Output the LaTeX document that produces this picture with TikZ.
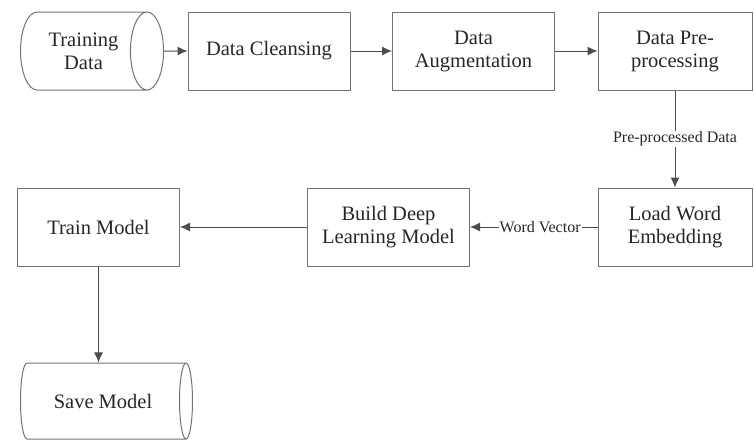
\documentclass[tikz,border=0pt]{standalone}
\usepackage{fontspec}
\setmainfont{Liberation Serif}
\usetikzlibrary{shapes.geometric,arrows.meta}

\begin{document}
\begin{tikzpicture}[x=1pt,y=-1pt,
box/.style={draw=black!55,line width=1pt,minimum width=162pt,minimum height=78pt,align=center,inner sep=0pt,text=black!85,font=\fontsize{20.5}{23}\selectfont},
store/.style={cylinder,draw=black!55,line width=1pt,aspect=0.9,minimum width=78pt,minimum height=143pt,align=center,inner sep=0pt,text=black!85,font=\fontsize{20.5}{23}\selectfont},
flow/.style={draw=black!70,line width=1pt,-{Latex[length=10pt,width=9pt]}},
lbl/.style={fill=white,inner sep=1pt,text=black!85,font=\fontsize{16}{18}\selectfont}]

\useasboundingbox (0,0) rectangle (754,439);

% top row
\node[store] (data) at (83.5,51) {Training\\Data};
\node[box] (clean) at (269,51) {Data Cleansing};
\node[box] (augm) at (473.5,51) {Data\\Augmentation};
\node[box,minimum width=154pt] (prep) at (675,51) {Data Pre-\\processing};

% middle row
\node[box,minimum width=154pt] (embed) at (675,227) {Load Word\\Embedding};
\node[box] (build) at (388.5,227) {Build Deep\\Learning Model};
\node[box] (fit) at (98.5,227) {Train Model};

% bottom
\node[store,minimum height=172pt,minimum width=76pt] (save) at (103,401) {Save Model};

\draw[flow] (data) -- (clean);
\draw[flow] (clean) -- (augm);
\draw[flow] (augm) -- (prep);
\draw[flow] (prep) -- node[lbl] {Pre-processed Data} (embed);
\draw[flow] (embed) -- node[lbl,pos=0.45] {Word Vector} (build);
\draw[flow] (build) -- (fit);
\draw[flow] (fit) -- (fit |- save.north);
\end{tikzpicture}
\end{document}
